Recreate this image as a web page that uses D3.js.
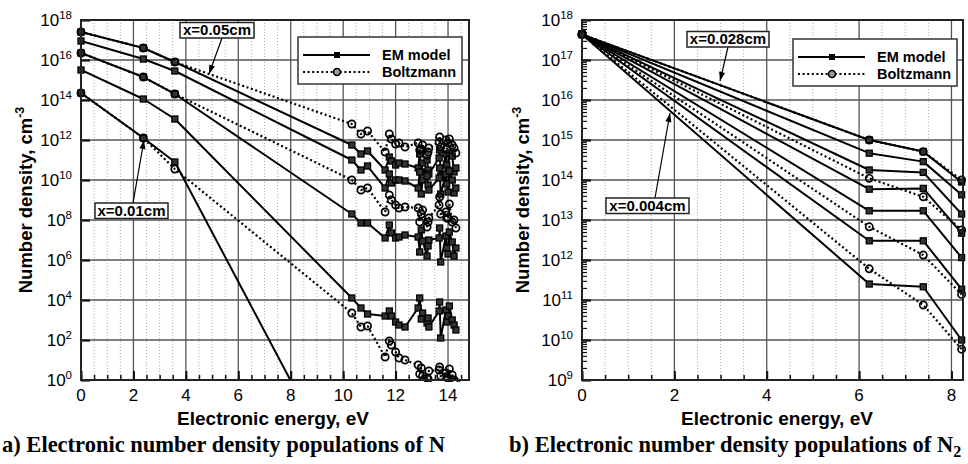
<!DOCTYPE html>
<html>
<head>
<meta charset="utf-8">
<script src="https://cdn.jsdelivr.net/npm/d3@7"></script>
<style>
  body { margin: 0; background: #fff; }
  svg text { font-family: "Liberation Sans", Arial, Helvetica, sans-serif; fill: #000; }
  .cap { font-family: "Liberation Serif", "Times New Roman", serif !important; font-weight: bold; }
</style>
</head>
<body>
<svg id="chart" width="968" height="464"></svg>
<script>
// ---------- Panel a: atomic nitrogen ----------
const energyN = [0, 2.38, 3.58, 10.33, 10.68, 10.93, 11.60, 11.76, 11.84, 12.00, 12.13, 12.36,
                 12.86, 12.92, 12.98, 13.03, 13.20, 13.24, 13.27, 13.66, 13.68, 13.72, 13.92, 13.95,
                 14.00, 14.05, 14.16, 14.23, 14.30];

// EM model populations, cm^-3 (x = 0.05, ..., 0.01 cm, top to bottom)
const emN_1 = [2.51e17, 3.98e16, 7.94e15, 5.62e11, 2.0e11, 2.82e11, 3.16e10, 1.41e11, 8.91e10, 5.62e10, 7.08e10, 6.31e10,
               3.98e10, 2.0e11, 2.51e10, 7.08e10, 1.0e11, 3.16e10, 2.0e10, 1.26e11, 3.16e11, 1.58e10, 2.0e11, 5.62e10,
               3.16e10, 2.24e11, 1.58e11, 2.51e10, 3.98e10];
const emN_2 = [8.91e16, 1.12e16, 2.82e15, 1.0e11, 3.16e10, 5.01e10, 3.98e9, 2.0e10, 7.08e9, 1.0e10, 1.0e10, 8.91e9,
               3.98e9, 2.51e10, 2.0e9, 1.0e10, 1.58e10, 5.62e9, 3.16e9, 1.26e10, 3.98e10, 2.0e9, 2.0e10, 6.31e9,
               2.51e9, 2.82e10, 1.0e10, 2.24e9, 3.98e9];
const emN_3 = [2.24e16, 1.41e15, 2.0e14, 2.0e8, 7.08e7, 7.08e7, 1.26e7, 5.62e7, 2.24e7, 1.26e7, 1.41e7, 1.78e7,
               1.41e7, 2.51e6, 3.16e7, 8.91e6, 1.58e6, 5.01e6, 1.0e7, 1.26e7, 3.98e7, 7.94e5, 1.58e7, 3.98e6,
               2.0e6, 2.51e7, 7.94e6, 1.58e6, 3.98e6];
const emN_4 = [3.16e15, 1.12e14, 1.12e13, 1.26e4, 3.98e3, 2.0e3, 1.58e3, 2.82e3, 1.58e3, 7.94e2, 5.62e2, 4.47e2,
               3.98e3, 1.26e4, 1.12e3, 2.24e3, 7.08e2, 1.26e3, 4.47e2, 2.82e3, 7.94e3, 1.26e2, 3.16e3, 7.94e2,
               1.58e3, 5.01e3, 1.0e3, 5.62e2, 3.16e2];
const emN_5 = [2.24e14, 1.26e12, 7.94e10, 1.58e-6];

// Boltzmann populations, cm^-3
const bzN_1 = [2.51e17, 3.98e16, 7.94e15, 6.31e12, 2.0e12, 2.82e12, 2.51e11, 2.0e12, 1.12e12, 6.31e11, 7.08e11, 4.47e11,
               7.08e11, 3.16e11, 3.55e11, 5.62e11, 1.78e11, 2.51e11, 3.98e11, 7.94e11, 1.41e12, 4.47e11, 1.0e12, 3.55e11,
               7.08e11, 1.12e12, 5.62e11, 3.98e11, 2.24e11];
const bzN_3 = [2.24e16, 1.41e15, 2.0e14, 1.0e10, 3.16e9, 3.98e9, 2.51e8, 1.78e9, 1.0e9, 5.62e8, 3.98e8, 4.47e8,
               3.98e8, 7.94e7, 2.0e8, 3.16e8, 4.47e7, 7.94e7, 1.26e8, 5.62e8, 1.41e9, 2.0e8, 2.51e8, 1.26e8,
               1.26e8, 6.31e8, 7.94e7, 1.0e8, 3.98e7];
const bzN_5 = [2.24e14, 1.26e12, 3.55e10, 2.24e3, 4.47e2, 5.01e2, 1.41e1, 8.91e1, 5.62e1, 2.51e1, 1.26e1, 1.0e1,
               5.62, 2.0, 3.98, 1.58, 1.26, 1.12, 2.82, 3.16, 4.47, 1.58, 2.24, 1.41,
               1.26, 3.55, 1.78, 1.0, 0.79];

// ---------- Panel b: molecular nitrogen ----------
const energyN2 = [0, 6.22, 7.39, 8.22];

// EM model populations, cm^-3 (x = 0.028 cm down to 0.004 cm)
const emN2_1 = [4.37e17, 1.0e15, 5.13e14, 8.91e13];
const emN2_2 = [4.37e17, 4.68e14, 2.88e14, 4.27e13];
const emN2_3 = [4.37e17, 1.78e14, 1.55e14, 1.41e13];
const emN2_4 = [4.37e17, 5.89e13, 6.17e13, 4.68e12];
const emN2_5 = [4.37e17, 1.70e13, 1.70e13, 1.15e12];
const emN2_6 = [4.37e17, 3.02e12, 3.02e12, 1.86e11];
const emN2_7 = [4.37e17, 2.51e11, 2.14e11, 1.0e10];

// Boltzmann populations, cm^-3
const bzN2_1 = [4.37e17, 1.0e15, 5.13e14, 1.0e14];
const bzN2_2 = [4.37e17, 1.10e14, 3.80e13, 5.62e12];
const bzN2_3 = [4.37e17, 6.76e12, 1.33e12, 1.38e11];
const bzN2_4 = [4.37e17, 6.03e11, 7.5e10, 5.89e9];

// Axis ticks and labels
const xTicksA = [0, 2, 4, 6, 8, 10, 12, 14];
const xTicksB = [0, 2, 4, 6, 8];
const yExpA = [0, 2, 4, 6, 8, 10, 12, 14, 16, 18];
const yExpB = [9, 10, 11, 12, 13, 14, 15, 16, 17, 18];
const legendLabels = ["EM model", "Boltzmann"];
const xTitle = "Electronic energy, eV";
const yTitle = "Number density, cm";
const captionA = "a) Electronic number density populations of N";
const captionB = "b) Electronic number density populations of N";

const svg = d3.select("#chart");

function drawPanel(p) {
  const g = svg.append("g");
  const x = d3.scaleLinear().domain(p.xDomain).range([p.left, p.right]);
  const y = d3.scaleLog().domain(p.yDomain).range([p.bottom, p.top]);

  const clipId = "clip-" + p.id;
  const clipM = "clipm-" + p.id;
  const defs = g.append("defs");
  defs.append("clipPath").attr("id", clipId).append("rect")
    .attr("x", p.left).attr("y", p.top).attr("width", p.right - p.left).attr("height", p.bottom - p.top);
  defs.append("clipPath").attr("id", clipM).append("rect")
    .attr("x", p.left - 8).attr("y", p.top - 4).attr("width", p.right - p.left + 16).attr("height", p.bottom - p.top + 6);

  // minor vertical dotted grid every 0.5 eV
  const minorX = d3.range(p.xDomain[0], p.xDomain[1] + 1e-9, 0.5).filter(v => Math.abs(v % 2) > 1e-6);
  g.append("g").selectAll("line").data(minorX).join("line")
    .attr("x1", d => x(d)).attr("x2", d => x(d)).attr("y1", p.top).attr("y2", p.bottom)
    .attr("stroke", "#aaa").attr("stroke-width", 1).attr("stroke-dasharray", "1,2");

  // major grid
  g.append("g").selectAll("line").data(p.xTicks.filter(v => v > 0)).join("line")
    .attr("x1", d => x(d)).attr("x2", d => x(d)).attr("y1", p.top).attr("y2", p.bottom)
    .attr("stroke", "#555").attr("stroke-width", 1.3);
  const yMajor = p.yExp.map(e => Math.pow(10, e));
  g.append("g").selectAll("line").data(yMajor).join("line")
    .attr("x1", p.left).attr("x2", p.right).attr("y1", d => y(d)).attr("y2", d => y(d))
    .attr("stroke", "#555").attr("stroke-width", 1.3);

  // axes with inward ticks
  const xMinorTicks = d3.range(p.xDomain[0], p.xDomain[1] + 1e-9, 0.5);
  g.append("g").attr("transform", `translate(0,${p.bottom})`)
    .call(d3.axisBottom(x).tickValues(xMinorTicks).tickSizeInner(-5).tickSizeOuter(0).tickFormat(""))
    .call(a => a.select(".domain").remove())
    .call(a => a.selectAll("line").attr("stroke", "#111").attr("stroke-width", 1.5));
  g.append("g").attr("transform", `translate(0,${p.bottom})`)
    .call(d3.axisBottom(x).tickValues(p.xTicks).tickSizeInner(-9).tickSizeOuter(0).tickFormat(""))
    .call(a => a.select(".domain").remove())
    .call(a => a.selectAll("line").attr("stroke", "#111").attr("stroke-width", 2));
  if (p.minorY) {
    const minorY = [];
    for (let e = p.yExp[0]; e < p.yExp[p.yExp.length - 1]; e++)
      for (let m = 2; m <= 9; m++) minorY.push(m * Math.pow(10, e));
    g.append("g").attr("transform", `translate(${p.left},0)`)
      .call(d3.axisLeft(y).tickValues(minorY).tickSizeInner(-5).tickSizeOuter(0).tickFormat(""))
      .call(a => a.select(".domain").remove())
      .call(a => a.selectAll("line").attr("stroke", "#111").attr("stroke-width", 1.2));
  }
  g.append("g").attr("transform", `translate(${p.left},0)`)
    .call(d3.axisLeft(y).tickValues(yMajor).tickSizeInner(-9).tickSizeOuter(0).tickFormat(""))
    .call(a => a.select(".domain").remove())
    .call(a => a.selectAll("line").attr("stroke", "#111").attr("stroke-width", 2.2));

  // tick labels
  g.append("g").selectAll("text").data(p.xTicks).join("text")
    .attr("x", d => x(d)).attr("y", p.bottom + 21)
    .attr("text-anchor", "middle").attr("font-size", 17).text(d => d);
  const yl = g.append("g").selectAll("text").data(p.yExp).join("text")
    .attr("x", p.left - 9).attr("y", d => y(Math.pow(10, d)) + 6)
    .attr("text-anchor", "end").attr("font-size", 17);
  yl.append("tspan").text("10");
  yl.append("tspan").attr("dy", -7.5).attr("font-size", 11.5).text(d => d);

  // titles
  g.append("text").attr("x", p.xTitleX).attr("y", 425).attr("text-anchor", "middle")
    .attr("font-size", 19).attr("font-weight", "bold").text(xTitle);
  const yt = g.append("text").attr("transform", `translate(${p.yTitleX},200) rotate(-90)`)
    .attr("text-anchor", "middle").attr("font-size", 18.5).attr("font-weight", "bold");
  yt.append("tspan").text(yTitle);
  yt.append("tspan").attr("dy", -8).attr("font-size", 12.5).text("-3");

  // series
  const line = d3.line().x(d => x(d[0])).y(d => y(d[1]));
  const toPts = (vals) => vals.map((v, i) => [p.energy[i], v]);
  const lines = g.append("g").attr("clip-path", `url(#${clipId})`);
  p.em.forEach(vals => lines.append("path").datum(toPts(vals)).attr("d", line)
    .attr("fill", "none").attr("stroke", "#000").attr("stroke-width", 2).attr("stroke-linejoin", "round"));
  p.bz.forEach(vals => lines.append("path").datum(toPts(vals)).attr("d", line)
    .attr("fill", "none").attr("stroke", "#000").attr("stroke-width", 2.2).attr("stroke-dasharray", "2,2.6"));

  const marks = g.append("g").attr("clip-path", `url(#${clipM})`);
  p.em.forEach(vals => marks.append("g").selectAll("rect").data(toPts(vals)).join("rect")
    .attr("x", d => x(d[0]) - 3).attr("y", d => y(d[1]) - 3).attr("width", 6).attr("height", 6)
    .attr("fill", "#333").attr("stroke", "#000").attr("stroke-width", 1.3));
  p.bz.forEach(vals => marks.append("g").selectAll("circle").data(toPts(vals)).join("circle")
    .attr("cx", d => x(d[0])).attr("cy", d => y(d[1])).attr("r", 3.6)
    .attr("fill", "none").attr("stroke", "#000").attr("stroke-width", 1.7));

  // frame
  g.append("rect").attr("x", p.left).attr("y", p.top).attr("width", p.right - p.left).attr("height", p.bottom - p.top)
    .attr("fill", "none").attr("stroke", "#222").attr("stroke-width", 2);

  // legend
  const lg = g.append("g");
  lg.append("rect").attr("x", p.legend[0]).attr("y", p.legend[1]).attr("width", p.legend[2]).attr("height", p.legend[3])
    .attr("fill", "#fff").attr("stroke", "#333").attr("stroke-width", 1.5);
  const lx = p.legend[0] + 5, ly = p.legend[1] + 18;
  lg.append("line").attr("x1", lx).attr("x2", lx + 67).attr("y1", ly).attr("y2", ly)
    .attr("stroke", "#000").attr("stroke-width", 2);
  lg.append("rect").attr("x", lx + 31).attr("y", ly - 3).attr("width", 6).attr("height", 6).attr("fill", "#000");
  lg.append("line").attr("x1", lx).attr("x2", lx + 67).attr("y1", ly + 17).attr("y2", ly + 17)
    .attr("stroke", "#000").attr("stroke-width", 2).attr("stroke-dasharray", "2,2.6");
  lg.append("circle").attr("cx", lx + 34).attr("cy", ly + 17).attr("r", 3.5)
    .attr("fill", "#999").attr("stroke", "#000").attr("stroke-width", 1.6);
  lg.selectAll("text.lab").data(legendLabels).join("text")
    .attr("x", lx + 79).attr("y", (d, i) => ly + 5 + i * 17)
    .attr("font-size", 14.5).attr("font-weight", "bold").text(d => d);

  // annotation boxes with arrows
  p.notes.forEach(n => {
    const ng = g.append("g");
    ng.append("line").attr("x1", n.from[0]).attr("y1", n.from[1]).attr("x2", n.to[0]).attr("y2", n.to[1])
      .attr("stroke", "#000").attr("stroke-width", 1.2);
    const ang = Math.atan2(n.to[1] - n.from[1], n.to[0] - n.from[0]);
    const L = 9, Wd = 3;
    const bx = n.to[0] - L * Math.cos(ang), by = n.to[1] - L * Math.sin(ang);
    ng.append("path").attr("d",
      `M${n.to[0]},${n.to[1]} L${bx + Wd * Math.sin(ang)},${by - Wd * Math.cos(ang)} L${bx - Wd * Math.sin(ang)},${by + Wd * Math.cos(ang)} Z`)
      .attr("fill", "#000");
    ng.append("rect").attr("x", n.box[0]).attr("y", n.box[1]).attr("width", n.box[2]).attr("height", n.box[3])
      .attr("fill", "#fff").attr("stroke", "#222").attr("stroke-width", 1.5);
    ng.append("text").attr("x", n.box[0] + n.box[2] / 2).attr("y", n.box[1] + n.box[3] - 3)
      .attr("text-anchor", "middle").attr("font-size", 15).attr("font-weight", "bold").text(n.text);
  });
}

drawPanel({
  id: "a", left: 81, right: 469, top: 20, bottom: 380,
  xDomain: [0, 14.8], yDomain: [1, 1e18], xTicks: xTicksA, yExp: yExpA, minorY: false,
  energy: energyN, em: [emN_1, emN_2, emN_3, emN_4, emN_5], bz: [bzN_1, bzN_3, bzN_5],
  xTitleX: 273, yTitleX: 32,
  legend: [298, 37, 164, 47],
  notes: [
    { text: "x=0.05cm", box: [180, 22.5, 74, 15.5], from: [222, 38], to: [209, 74] },
    { text: "x=0.01cm", box: [95, 203, 73, 15.5], from: [133, 203], to: [144, 140] }
  ]
});

drawPanel({
  id: "b", left: 582, right: 963, top: 20, bottom: 380,
  xDomain: [0, 8.25], yDomain: [1e9, 1e18], xTicks: xTicksB, yExp: yExpB, minorY: true,
  energy: energyN2, em: [emN2_1, emN2_2, emN2_3, emN2_4, emN2_5, emN2_6, emN2_7], bz: [bzN2_1, bzN2_2, bzN2_3, bzN2_4],
  xTitleX: 777, yTitleX: 529,
  legend: [793, 39, 164, 47],
  notes: [
    { text: "x=0.028cm", box: [687, 31.5, 82, 15.5], from: [728, 47], to: [720, 81] },
    { text: "x=0.004cm", box: [606, 198, 83, 15.5], from: [655, 198], to: [670, 113] }
  ]
});

// captions
svg.append("text").attr("class", "cap").attr("x", 2).attr("y", 452).attr("font-size", 22.5).text(captionA);
const cb = svg.append("text").attr("class", "cap").attr("x", 509).attr("y", 452).attr("font-size", 22.5);
cb.append("tspan").text(captionB);
cb.append("tspan").attr("dy", 5).attr("font-size", 16).text("2");
</script>
</body>
</html>
